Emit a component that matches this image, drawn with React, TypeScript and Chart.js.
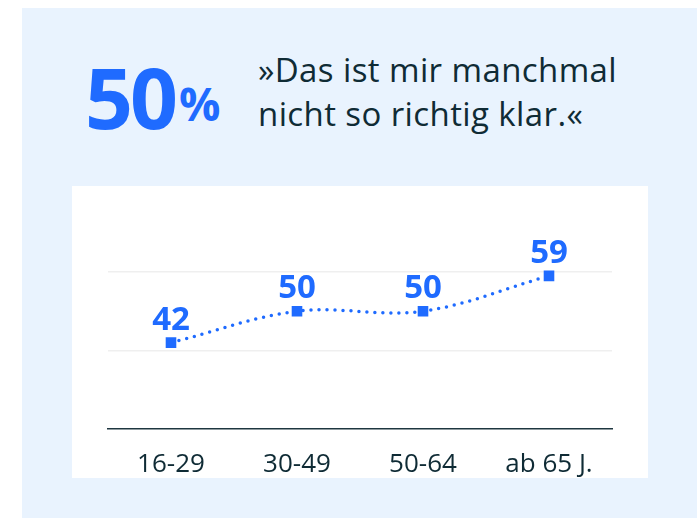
import React, { useEffect, useRef } from "react";
import { Chart, registerables } from "chart.js";

Chart.register(...registerables);

const categories = ["16-29", "30-49", "50-64", "ab 65 J."];
const values = [42, 50, 50, 59];
const gridValues = [40, 60];
const headlineValue = "50";
const headlineUnit = "%";
const quoteLines = ["»Das ist mir manchmal", "nicht so richtig klar.«"];

const BLUE = "#1F6BFF";
const DARK = "#0F2B35";
const PANEL = "#E9F3FE";
const FONT = "'Open Sans', 'DejaVu Sans', sans-serif";

const dataLabelPlugin = {
  id: "dataLabels",
  afterDatasetsDraw(chart: any) {
    const ctx = chart.ctx;
    const meta = chart.getDatasetMeta(0);
    ctx.save();
    ctx.font = `bold 33px ${FONT}`;
    ctx.fillStyle = BLUE;
    ctx.textAlign = "center";
    ctx.textBaseline = "alphabetic";
    meta.data.forEach((pt: any, i: number) => {
      ctx.fillText(String(values[i]), pt.x, pt.y - 13);
    });
    ctx.restore();
  },
};

export default function App() {
  const canvasRef = useRef<HTMLCanvasElement | null>(null);

  useEffect(() => {
    if (!canvasRef.current) return;
    const chart = new Chart(canvasRef.current, {
      type: "line",
      data: {
        labels: categories,
        datasets: [
          {
            data: values,
            borderColor: BLUE,
            backgroundColor: BLUE,
            borderWidth: 3.5,
            borderDash: [0, 8],
            borderCapStyle: "round",
            tension: 0.35,
            pointStyle: "rect",
            pointRadius: 7.5,
            pointBorderWidth: 0,
            pointBackgroundColor: BLUE,
            fill: false,
          } as any,
        ],
      },
      options: {
        animation: false,
        responsive: false,
        maintainAspectRatio: false,
        layout: { padding: { left: 36, right: 36, top: 6, bottom: 0 } },
        plugins: {
          legend: { display: false },
          tooltip: { enabled: false },
        },
        scales: {
          x: {
            offset: true,
            grid: { display: false, drawTicks: false },
            border: { display: true, color: "#1E3640", width: 1.5 },
            ticks: {
              color: DARK,
              padding: 23,
              font: { family: FONT, size: 26, lineHeight: 1 },
            },
            afterFit: (scale: any) => {
              scale.height = 49;
            },
          },
          y: {
            min: 20,
            max: 80,
            ticks: { display: false, stepSize: 20 },
            border: { display: false },
            grid: {
              drawTicks: false,
              lineWidth: 1.5,
              color: (c: any) =>
                c.tick && gridValues.includes(c.tick.value) ? "#EFEFEF" : "rgba(0,0,0,0)",
            },
          },
        },
      },
      plugins: [dataLabelPlugin],
    });
    return () => chart.destroy();
  }, []);

  return (
    <div style={{ position: "fixed", inset: 0, overflow: "hidden", background: "#fff" }}>
      <div
        style={{
          position: "absolute",
          left: 22,
          top: 8,
          right: 0,
          bottom: 0,
          background: PANEL,
        }}
      />
      <div
        style={{
          position: "absolute",
          left: 85,
          top: 55,
          fontFamily: FONT,
          fontWeight: 700,
          color: BLUE,
          lineHeight: 1,
          whiteSpace: "nowrap",
        }}
      >
        <span style={{ fontSize: 84, letterSpacing: -3 }}>{headlineValue}</span>
        <span style={{ fontSize: 46, marginLeft: 4, position: "relative", top: -8 }}>
          {headlineUnit}
        </span>
      </div>
      <div
        style={{
          position: "absolute",
          left: 258,
          top: 48,
          fontFamily: FONT,
          fontSize: 33,
          letterSpacing: 0.4,
          lineHeight: "44px",
          color: DARK,
          whiteSpace: "nowrap",
        }}
      >
        {quoteLines.map((l, i) => (
          <div key={i}>{l}</div>
        ))}
      </div>
      <div
        style={{
          position: "absolute",
          left: 72,
          top: 186,
          width: 576,
          height: 292,
          background: "#fff",
        }}
      >
        <canvas ref={canvasRef} width={576} height={292} style={{ display: "block" }} />
      </div>
    </div>
  );
}
